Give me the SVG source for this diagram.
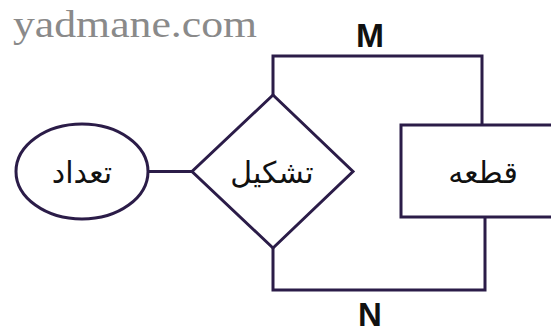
<svg xmlns="http://www.w3.org/2000/svg" width="551" height="335" viewBox="0 0 551 335">
<style>
.shape{fill:#ffffff;stroke:#2b1c48;stroke-width:3;}
.conn{fill:none;stroke:#2b1c48;stroke-width:3;stroke-linejoin:miter;}
.ar{font-family:"DejaVu Sans",sans-serif;fill:#111111;text-anchor:middle;}
.lbl{font-family:"Liberation Sans",Arial,sans-serif;font-weight:bold;fill:#111111;text-anchor:middle;}
.wm{font-family:"Liberation Serif","Times New Roman",serif;fill:#8a8a8a;}
</style>
<rect width="551" height="335" fill="#ffffff"/>
<text class="wm" x="13" y="37" font-size="37" textLength="244" lengthAdjust="spacingAndGlyphs">yadmane.com</text>
<g id="connectors">
<path class="conn" d="M273,95 L273,56 L482,56 L482,125"/>
<path class="conn" d="M273,248 L273,290 L485,290 L485,217"/>
<path class="conn" d="M148,171.5 L192,171.5"/>
<text class="lbl" x="370" y="47" font-size="33" textLength="28" lengthAdjust="spacingAndGlyphs">M</text>
<text class="lbl" x="370" y="326" font-size="33">N</text>
</g>
<g id="node-tedad">
<ellipse class="shape" cx="82" cy="171.5" rx="66" ry="47.5"/>
<text class="ar" x="82" y="183" font-size="30">تعداد</text>
</g>
<g id="node-tashkil">
<polygon class="shape" points="273,95 353,171.5 273,248 192,171.5"/>
<text class="ar" x="272" y="183" font-size="30">تشکیل</text>
</g>
<g id="node-ghate">
<rect class="shape" x="401" y="125" width="165" height="92"/>
<text class="ar" x="483" y="183" font-size="30">قطعه</text>
</g>
</svg>
